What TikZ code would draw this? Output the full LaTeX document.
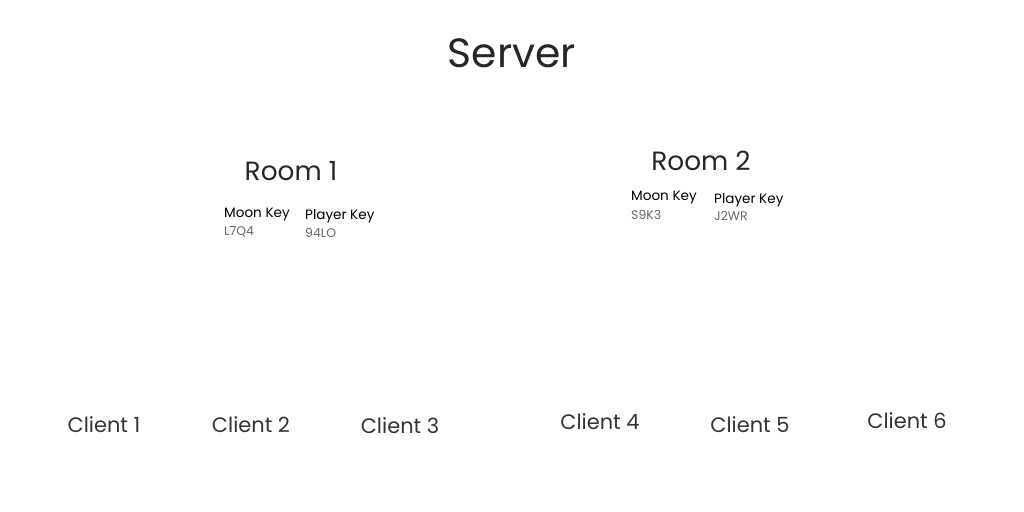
\documentclass[tikz,border=0pt]{standalone}
\usepackage{fontspec}
\setmainfont{Poppins}
\begin{document}
\begin{tikzpicture}[x=1bp,y=-1bp,
  title/.style={inner sep=0pt,text=black!85,font=\fontsize{41}{44}\selectfont},
  room/.style={inner sep=0pt,text=black!85,font=\fontsize{26.5}{30}\selectfont},
  client/.style={inner sep=0pt,text=black!80,font=\fontsize{21}{24}\selectfont},
  keylabel/.style={inner sep=0pt,anchor=west,text=black,font=\fontsize{13.6}{16}\selectfont},
  keycode/.style={inner sep=0pt,anchor=west,text=black!60,font=\fontsize{12.5}{14}\selectfont}]
\useasboundingbox (0,0) rectangle (1024,512);
\node[title] (server) at (512,53) {Server};
\node[room] (room1) at (291,171) {Room 1};
\node[keylabel] (mk1) at (224,215) {Moon Key};
\node[keycode] (mc1) at (224,232) {L7Q4};
\node[keylabel] (pk1) at (305,216) {Player Key};
\node[keycode] (pc1) at (305,233) {94LO};
\node[room] (room2) at (701,161) {Room 2};
\node[keylabel] (mk2) at (631,198) {Moon Key};
\node[keycode] (mc2) at (631,215) {S9K3};
\node[keylabel] (pk2) at (714,200) {Player Key};
\node[keycode] (pc2) at (714,216) {J2WR};
\node[client] (c1) at (104,425) {Client 1};
\node[client] (c2) at (251,425) {Client 2};
\node[client] (c3) at (400,426) {Client 3};
\node[client] (c4) at (600,422) {Client 4};
\node[client] (c5) at (750,425) {Client 5};
\node[client] (c6) at (907,421) {Client 6};
\end{tikzpicture}
\end{document}
